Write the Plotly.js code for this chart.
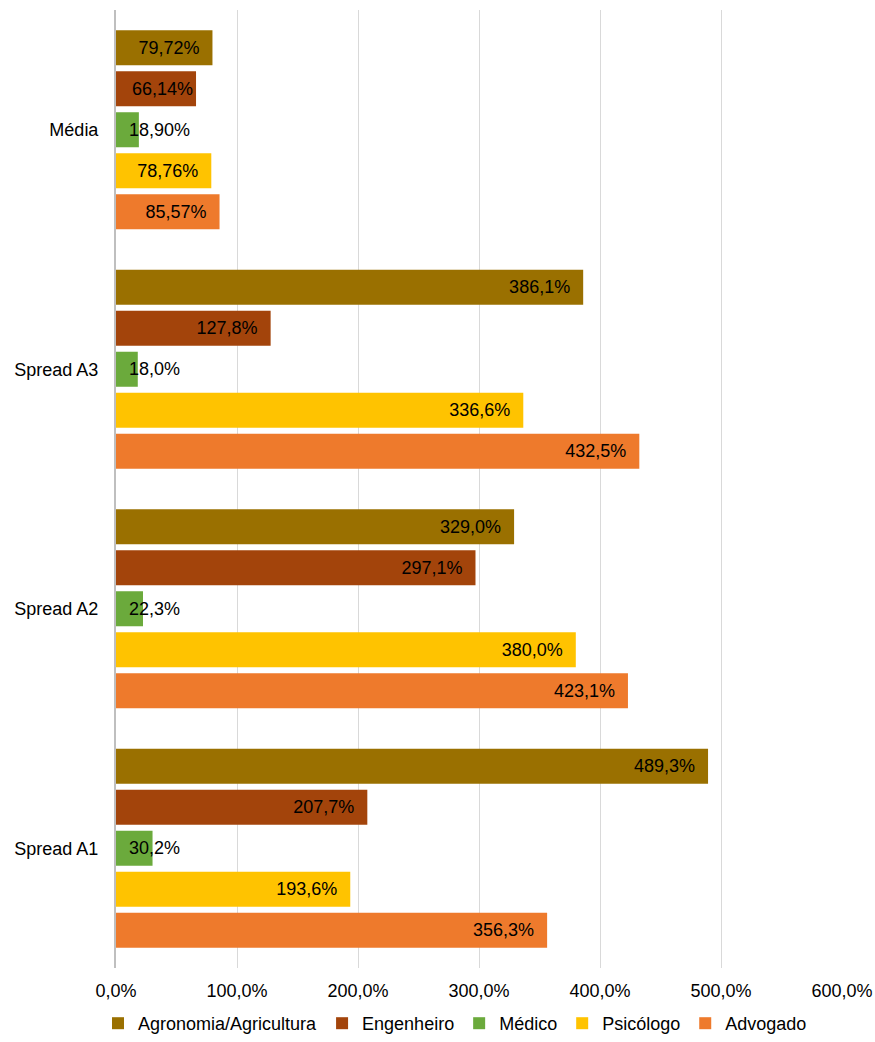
<!DOCTYPE html>
<html>
<head>
<meta charset="utf-8">
<script src="https://cdn.plot.ly/plotly-3.0.1.min.js"></script>
<style>html,body{margin:0;padding:0;background:#fff;}#chart{width:875px;height:1042px;}</style>
</head>
<body>
<div id="chart"></div>
<script>
var categories = ["Spread A1", "Spread A2", "Spread A3", "Média"];
var agronomia = [489.3, 329.0, 386.1, 79.72];
var engenheiro = [207.7, 297.1, 127.8, 66.14];
var medico = [30.2, 22.3, 18.0, 18.90];
var psicologo = [193.6, 380.0, 336.6, 78.76];
var advogado = [356.3, 423.1, 432.5, 85.57];
var tickVals = [0, 100, 200, 300, 400, 500, 600];
var tickText = ["0,0%", "100,0%", "200,0%", "300,0%", "400,0%", "500,0%", "600,0%"];

var NB = '\u00a0';
var X_MAX = 600, PLOT_W = 726, FONT = 18;
function fmt(v, i) {
  var d = (i === 3) ? 2 : 1;
  return v.toFixed(d).replace('.', ',') + '%';
}
function approxWidth(s) {
  var w = 0;
  for (var k = 0; k < s.length; k++) {
    var c = s[k];
    w += (c === ',') ? 0.278 : (c === '%') ? 0.889 : 0.556;
  }
  return w * FONT;
}

function mk(name, vals, color, small) {
  return {
    type: 'bar', orientation: 'h', name: name,
    y: categories, x: vals,
    text: vals.map(function (v, i) {
      var s = fmt(v, i);
      if (small) return NB + NB + s;
      var room = v / X_MAX * PLOT_W - approxWidth(s);
      return room >= 24 ? s + NB + NB : s;
    }),
    textposition: 'inside', insidetextanchor: small ? 'start' : 'end',
    constraintext: 'none', textangle: 0,
    textfont: {family: 'Liberation Sans, Arial, sans-serif', size: FONT, color: '#000'},
    insidetextfont: {family: 'Liberation Sans, Arial, sans-serif', size: FONT, color: '#000'},
    marker: {color: color, line: {width: 0}},
    hoverinfo: 'none'
  };
}

var data = [
  mk('Advogado', advogado, '#EE7A2C', false),
  mk('Psicólogo', psicologo, '#FFC300', false),
  mk('Médico', medico, '#6BAA3C', true),
  mk('Engenheiro', engenheiro, '#A3440B', false),
  mk('Agronomia/Agricultura', agronomia, '#9A7000', false)
];

var layout = {
  width: 875, height: 1042,
  margin: {l: 116, r: 33, t: 10, b: 74},
  paper_bgcolor: '#fff', plot_bgcolor: '#fff',
  barmode: 'group', bargap: 0.144, bargroupgap: 0.146,
  font: {family: 'Liberation Sans, Arial, sans-serif', size: FONT, color: '#000'},
  xaxis: {
    range: [0, X_MAX], tickvals: tickVals, ticktext: tickText,
    showgrid: true, gridcolor: '#d9d9d9', gridwidth: 1,
    zeroline: false, showline: false, ticks: '', ticklen: 0,
    ticklabelstandoff: 10,
    tickfont: {size: FONT}, fixedrange: true
  },
  yaxis: {
    type: 'category', categoryorder: 'array', categoryarray: categories,
    range: [-0.5, 3.5], showgrid: false, zeroline: false,
    showline: true, linecolor: '#bfbfbf', linewidth: 2,
    ticks: '', ticklabelstandoff: 12, tickfont: {size: FONT}, fixedrange: true
  },
  showlegend: true,
  legend: {
    orientation: 'h', traceorder: 'reversed',
    xref: 'container', yref: 'container',
    x: 0.52, xanchor: 'center',
    y: -0.007, yanchor: 'bottom',
    font: {size: FONT}, tracegroupgap: 0
  }
};

Plotly.newPlot('chart', data, layout, {displayModeBar: false, staticPlot: true});
</script>
</body>
</html>
